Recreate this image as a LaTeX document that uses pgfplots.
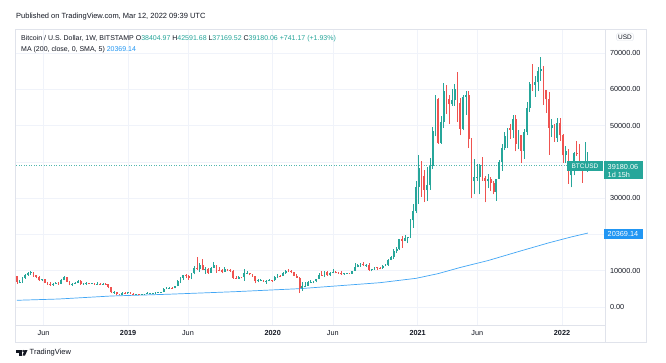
\documentclass[border=0pt]{standalone}
\usepackage{pgfplots}
\pgfplotsset{compat=1.18}
\usepackage{pgfplotstable}
\usepackage{fontspec}
\setmainfont{Liberation Sans}
\definecolor{upc}{HTML}{26A69A}
\definecolor{dnc}{HTML}{EF5350}
\definecolor{mac}{HTML}{2196F3}
\definecolor{gridc}{HTML}{F0F3FA}
\definecolor{txt}{HTML}{131722}
\definecolor{framec}{HTML}{E0E3EB}

\pgfplotstableread{
i O H L C
1 6900 7500 6550 7020
2 7020 8400 6600 8000
3 8000 9000 7800 8900
4 8900 9750 8650 9250
5 9250 9950 8950 9650
9 7350 7750 7050 7650
13 6150 6500 5800 6350
14 6350 6800 6300 6750
16 6350 7650 6300 7400
17 7400 8500 7350 8200
20 6300 6650 5900 6400
21 6400 6900 6300 6700
22 6700 7350 6650 7250
24 6250 6600 6150 6500
25 6500 6800 6100 6700
27 6600 6700 6450 6620
29 6300 6800 6250 6450
31 6400 6500 6250 6420
35 4000 4400 3650 4150
38 3250 4200 3250 3950
40 3800 4100 3650 4050
43 3550 3650 3450 3560
45 3450 3700 3400 3650
46 3650 3700 3550 3660
47 3660 4200 3650 3850
48 3850 3950 3750 3860
49 3860 3950 3700 3900
50 3900 4000 3800 3950
51 3950 4050 3900 4000
52 4000 4150 3900 4100
53 4100 5300 4100 5050
54 5050 5450 4950 5100
55 5100 5450 5000 5300
57 5150 5900 5100 5750
58 5750 7400 5750 7250
59 7250 8350 6600 8000
60 8000 8900 7500 8700
63 8000 9350 7600 9300
64 9300 11200 9000 10800
66 10600 12000 9700 11500
68 10200 11000 9100 10600
70 9500 11000 9400 10800
71 10800 12300 10800 11550
75 9750 10900 9700 10400
80 7850 8650 7800 8300
82 8200 10500 7300 9250
83 9250 9950 9000 9350
87 7100 7850 6800 7400
88 7400 7700 7250 7500
90 7100 7550 6450 7150
91 7150 7650 7100 7400
93 7350 8450 7300 8200
94 8200 9200 8050 8650
96 8600 9600 8550 9350
97 9350 10150 9150 9900
103 5350 6900 4450 5800
104 5800 6950 5700 5900
105 5900 7200 5850 6800
106 6800 7450 6750 6850
107 6850 7300 6500 7100
108 7100 7700 6800 7700
109 7700 9450 7650 8900
111 8700 9950 8200 9650
113 8700 9750 8650 9450
114 9450 10400 9300 9700
118 9000 9300 8950 9250
119 9250 9450 9100 9270
121 9200 10000 9150 9950
122 9950 12000 9900 11150
123 11150 11950 10950 11700
124 11700 12100 11150 11900
126 11650 11750 11100 11700
128 10300 10600 9850 10350
129 10350 11150 10250 10950
132 10650 11450 10550 11350
133 11350 11750 11200 11500
134 11500 13350 11400 13050
135 13050 14050 12900 13800
136 13800 15950 13250 15450
137 15450 16450 14850 15950
138 15950 18800 15800 18650
140 18200 19900 18100 19150
141 19150 19400 17600 19250
142 19250 24300 19000 23850
143 23850 28400 21900 26450
144 26450 34800 25900 33000
145 33000 41950 28500 38200
148 32300 38550 29200 33500
149 33500 41000 32300 38900
150 38900 49700 38000 48600
151 48600 58300 47000 57400
153 45200 52600 45000 50950
154 50950 61750 49300 59400
157 55800 60000 55500 57100
158 57100 61500 55500 59950
161 49100 58400 48700 57800
162 57800 59450 53000 58300
165 34700 40800 31100 35700
166 35700 39500 34800 35800
167 35800 39400 31000 39100
170 34700 36600 32700 35300
173 31800 35400 29300 35400
174 35400 40500 35300 39900
175 39900 44800 37500 43800
176 43800 48200 43200 47000
177 47000 49400 43900 49300
179 48900 52900 46500 51750
181 45000 48800 43400 47300
183 43100 49000 40800 48200
184 48200 56500 47300 54700
185 54700 62000 53800 61500
187 61300 63700 58000 61900
188 61900 66000 59500 64900
189 64900 69000 62300 65500
193 49400 51900 46800 50100
195 46700 52000 45600 50800
198 41800 44400 39600 43100
200 36300 38950 32950 38200
201 38200 42600 36250 42400
205 37700 45400 37500 38400
206 38404.97 42591.68 37169.52 39180.06
}\upcandles

\pgfplotstableread{
i O H L C
0 8450 8500 6450 6900
6 9650 9700 8350 8700
7 8700 8900 7900 8250
8 8250 8500 7250 7350
10 7650 7800 6600 6700
11 6700 6850 6150 6450
12 6450 6850 5800 6150
15 6750 6800 6100 6350
18 8200 8250 6950 7000
19 7000 7150 5950 6300
23 7250 7400 6150 6250
26 6700 6750 6450 6600
28 6620 6700 6150 6300
30 6450 6500 6350 6400
32 6420 6550 6350 6380
33 6380 6400 5200 5600
34 5600 5600 3800 4000
36 4150 4150 3300 3500
37 3500 3600 3200 3250
39 3950 4150 3550 3800
41 4050 4100 3550 3600
42 3600 3750 3500 3550
44 3560 3600 3350 3450
56 5300 5600 5000 5150
61 8700 9100 7950 8650
62 8650 8800 7450 8000
65 10800 13900 10300 10600
67 11500 13150 10100 10200
69 10600 10650 9150 9500
72 11550 11600 9500 10300
73 10300 10950 9800 10150
74 10150 10600 9300 9750
76 10400 10450 9900 10300
77 10300 10350 9600 10050
78 10050 10100 7800 8050
79 8050 8550 7750 7850
81 8300 8400 7900 8200
84 9350 9500 8700 9050
85 9050 9150 8400 8500
86 8500 8500 6500 7100
89 7500 7550 6900 7100
92 7400 7500 6850 7350
95 8650 8800 8250 8600
98 9900 10500 9700 9880
99 9880 10250 9300 9650
100 9650 9700 8500 8550
101 8550 9200 8000 8050
102 8050 8200 3850 5350
110 8900 10000 8600 8700
112 9650 9900 8650 8700
115 9700 10000 9250 9350
116 9350 9600 9200 9300
117 9300 9800 8950 9000
120 9270 9300 9050 9200
125 11900 12450 11350 11650
127 11700 12100 9900 10300
130 10950 10950 10150 10750
131 10750 10950 10450 10650
139 18650 19450 16300 18200
146 38200 40100 30400 36050
147 36050 37850 28900 32300
152 57400 57600 44900 45200
155 59400 61150 53250 57350
156 57350 58500 50400 55800
159 59950 64800 51000 56150
160 56150 57500 47300 49100
163 58300 59500 43800 46400
164 46400 46600 30000 34700
168 39100 41300 34800 35600
169 35600 36000 28800 34700
171 35300 35950 32100 34250
172 34250 34700 31050 31800
178 49300 50500 46400 48900
180 51750 52900 42900 45000
182 47300 47400 39600 43100
186 61500 67000 59500 61300
190 65500 66300 55600 59700
191 59700 59800 53500 57200
192 57200 59200 42000 49400
194 50100 50500 45600 46700
196 50800 52100 45700 47300
197 47300 47600 39700 41800
199 43100 43500 34000 36300
202 42400 45850 41700 42200
203 42200 44800 38000 38400
204 38400 39800 34300 37700
}\dncandles

\pgfplotstableread{
i M
0 1850
15 2200
34 3030
54 3500
78 4200
102 5050
131 6700
144 7900
152 9200
160 10900
170 12800
182 15500
192 17700
200 19300
206 20369.14
}\matable

\begin{document}
\begin{tikzpicture}[x=1pt,y=1pt]
\useasboundingbox (0,0) rectangle (666,362);
\fill[white] (0,0) rectangle (666,362);
\begin{axis}[
  at={(15pt,37pt)}, anchor=south west,
  scale only axis, width=590pt, height=296pt,
  xmin=-0.7, xmax=212.2, ymin=-4960, ymax=76600,
  axis line style={draw=framec, line width=0.6pt},
  major tick length=0pt, tick style={draw=none},
  xtick={9.6,40.1,61.7,92.3,114.0,144.6,166.1,196.7},
  xticklabels={Jun,\textbf{2019},Jun,\textbf{2020},Jun,\textbf{2021},Jun,\textbf{2022}},
  ytick={0,10000,20000,30000,40000,50000,60000,70000},
  yticklabels={0.00,10000.00,,30000.00,,50000.00,60000.00,70000.00},
  scaled y ticks=false,
  yticklabel pos=right,
  ticklabel style={font=\fontsize{7.3}{8}\selectfont, text=txt},
  yticklabel style={anchor=west, xshift=1.5pt},
  xticklabel style={yshift=-2pt},
  grid=major, major grid style={draw=gridc, line width=0.6pt},
]
\addplot[mac!85, line width=0.7pt, mark=none] table[x=i, y=M] {\matable};
\addplot[upc!80, line width=0.5pt, dash pattern=on 1pt off 1.5pt, mark=none] coordinates {(-2,39180.06) (213,39180.06)};
% wicks
\addplot[draw=none, mark=none, forget plot, error bars/.cd, y dir=plus, y explicit, error mark=none, error bar style={draw=upc, line width=0.7pt, solid}]
  table[x=i, y=L, y error plus expr=\thisrow{H}-\thisrow{L}] {\upcandles};
\addplot[draw=none, mark=none, forget plot, error bars/.cd, y dir=plus, y explicit, error mark=none, error bar style={draw=dnc, line width=0.7pt, solid}]
  table[x=i, y=L, y error plus expr=\thisrow{H}-\thisrow{L}] {\dncandles};
% bodies
\addplot[draw=none, mark=none, forget plot, error bars/.cd, y dir=plus, y explicit, error mark=none, error bar style={draw=upc, line width=1.8pt, solid}]
  table[x=i, y=O, y error plus expr=\thisrow{C}-\thisrow{O}] {\upcandles};
\addplot[draw=none, mark=none, forget plot, error bars/.cd, y dir=plus, y explicit, error mark=none, error bar style={draw=dnc, line width=1.8pt, solid}]
  table[x=i, y=C, y error plus expr=\thisrow{O}-\thisrow{C}] {\dncandles};
\end{axis}
% frame
\draw[framec, line width=0.6pt] (15,20) rectangle (646,333);
\draw[framec, line width=0.6pt] (605,20) -- (605,333);
% header
\node[anchor=west, inner sep=0, font=\fontsize{7.5}{9}\selectfont, text=txt] at (16,345) {Published on TradingView.com, Mar 12, 2022 09:39 UTC};
\node[anchor=west, inner sep=0, font=\fontsize{7}{8}\selectfont, text=txt] at (21,323) {Bitcoin / U.S. Dollar, 1W, BITSTAMP O\textcolor{upc}{38404.97} H\textcolor{upc}{42591.68} L\textcolor{upc}{37169.52} C\textcolor{upc}{39180.06} \textcolor{upc}{+741.17 (+1.93\%)}};
\node[anchor=west, inner sep=0, font=\fontsize{7}{8}\selectfont, text=txt] at (21,312) {MA (200, close, 0, SMA, 5) \textcolor{mac}{20369.14}};
% USD box
\node[draw=framec, rounded corners=1.5pt, inner sep=1.5pt, font=\fontsize{6.5}{7}\selectfont, text=txt] at (625,325) {USD};
% labels
\fill[upc] (567,191) rectangle (603,201);
\node[text=white, inner sep=0, font=\fontsize{6.5}{7}\selectfont] at (585,196) {BTCUSD};
\fill[upc] (604,183) rectangle (643,201);
\node[text=white, inner sep=0, font=\fontsize{7.3}{8}\selectfont, anchor=west] at (607.5,195.5) {39180.06};
\node[text=white, inner sep=0, font=\fontsize{7.3}{8}\selectfont, anchor=west] at (607.5,187.5) {1d 15h};
\fill[mac] (604,123) rectangle (643,133);
\node[text=white, inner sep=0, font=\fontsize{7.3}{8}\selectfont, anchor=west] at (607.5,128) {20369.14};
% TradingView logo
\fill[txt] (16,9.5) rectangle (21.5,12);
\fill[txt] (18.5,6.5) rectangle (21.5,12);
\fill[txt] (23.3,11) circle (1.1);
\fill[txt] (24.5,12) -- (27.5,12) -- (25,6.5) -- (22.5,6.5) -- cycle;
\node[anchor=west, inner sep=0, font=\fontsize{7.5}{9}\selectfont, text=txt] at (29.5,9.3) {TradingView};
\end{tikzpicture}
\end{document}
